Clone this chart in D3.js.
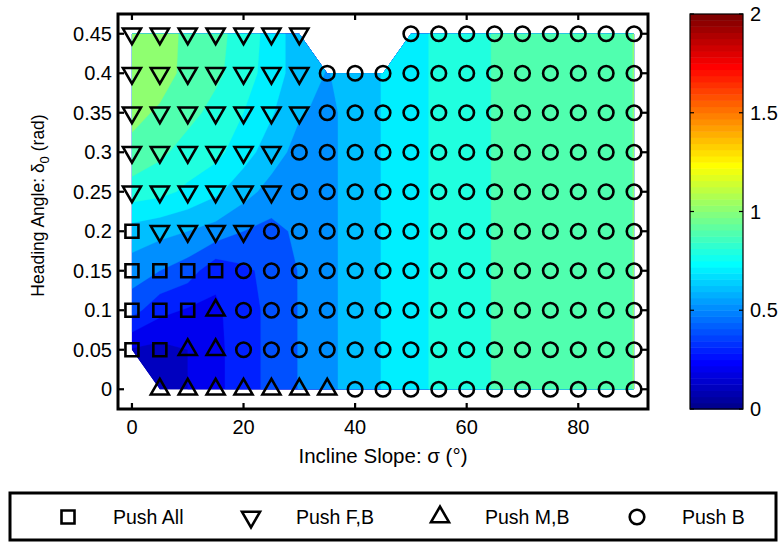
<!DOCTYPE html>
<html><head><meta charset="utf-8">
<script src="https://cdn.jsdelivr.net/npm/d3@7"></script>
<style>
body{margin:0;background:#fff}
svg{display:block}
text{font-family:"Liberation Sans",Arial,Helvetica,sans-serif;fill:#000}
</style>
</head><body>
<svg id="chart" width="784" height="544"></svg>
<script>
// ---------------- data ----------------
const slopes = [0,5,10,15,20,25,30,35,40,45,50,55,60,65,70,75,80,85,90];
const headings = [0,0.05,0.1,0.15,0.2,0.25,0.3,0.35,0.4,0.45];
// contour quantity, one row per heading (from 0 upward), one value per slope
const zRows = [
 [0.15,0.15,0.20,0.27,0.36,0.425,0.505,0.575,0.64,0.705,0.765,0.82,0.865,0.905,0.935,0.96,0.978,0.99,1.0005],
 [0.19,0.17,0.20,0.27,0.36,0.425,0.505,0.575,0.64,0.705,0.765,0.82,0.865,0.905,0.935,0.96,0.978,0.99,1.0005],
 [0.44,0.33,0.29,0.28,0.36,0.425,0.505,0.575,0.64,0.705,0.765,0.82,0.865,0.905,0.935,0.96,0.978,0.99,1.0005],
 [0.55,0.50,0.45,0.33,0.38,0.43,0.505,0.575,0.64,0.705,0.765,0.82,0.865,0.905,0.935,0.96,0.978,0.99,1.0005],
 [0.66,0.63,0.60,0.56,0.50,0.47,0.52,0.575,0.64,0.705,0.765,0.82,0.865,0.905,0.935,0.96,0.978,0.99,1.0005],
 [0.85,0.83,0.78,0.72,0.64,0.56,0.535,0.575,0.64,0.705,0.765,0.82,0.865,0.905,0.935,0.96,0.978,0.99,1.0005],
 [0.98,0.92,0.86,0.83,0.74,0.65,0.56,0.575,0.64,0.705,0.765,0.82,0.865,0.905,0.935,0.96,0.978,0.99,1.0005],
 [1.02,0.99,0.93,0.87,0.80,0.71,0.61,0.575,0.64,0.705,0.765,0.82,0.865,0.905,0.935,0.96,0.978,0.99,1.0005],
 [1.05,1.03,0.98,0.92,0.85,0.75,0.65,0.595,0.64,0.705,0.765,0.82,0.865,0.905,0.935,0.96,0.978,0.99,1.0005],
 [1.06,1.04,0.98,0.93,0.86,0.76,0.64,0.62,0.64,0.705,0.765,0.82,0.865,0.905,0.935,0.96,0.978,0.99,1.0005]
];
const levels = [0,0.1,0.2,0.3,0.4,0.5,0.6,0.7,0.8,0.9,1.0];
// regime at each grid node: S=Push All, D=Push F,B, U=Push M,B, O=Push B, -=none
const regimeRows = [
 "-UUUUUUUOOOOOOOOOOO",
 "SSUUOOOOOOOOOOOOOOO",
 "SSSUOOOOOOOOOOOOOOO",
 "SSSSOOOOOOOOOOOOOOO",
 "SDDDDOOOOOOOOOOOOOO",
 "DDDDDDOOOOOOOOOOOOO",
 "DDDDDDOOOOOOOOOOOOO",
 "DDDDDDDOOOOOOOOOOOO",
 "DDDDDDDOOOOOOOOOOOO",
 "DDDDDDD---OOOOOOOOO"
];
const legendCodes = ["S","D","U","O"];
const legendNames = ["Push All","Push F,B","Push M,B","Push B"];
// outline of the sampled region (slope, heading)
const dataOutline = [[0,0.05],[5,0],[90,0],[90,0.45],[50,0.45],[45,0.4],[35,0.4],[30,0.45],[0,0.45]];
const xTicks = [0,20,40,60,80];
const xTickLabels = ["0","20","40","60","80"];
const yTicks = [0,0.05,0.1,0.15,0.2,0.25,0.3,0.35,0.4,0.45];
const yTickLabels = ["0","0.05","0.1","0.15","0.2","0.25","0.3","0.35","0.4","0.45"];
const cbTicks = [0,0.5,1,1.5,2];
const cbTickLabels = ["0","0.5","1","1.5","2"];
const cLim = [0,2];

// ---------------- jet(64) colormap ----------------
function jet64(){
  const n=64,m=16,u=[];
  for(let k=1;k<=16;k++)u.push(k/16);
  for(let k=0;k<15;k++)u.push(1);
  for(let k=16;k>=1;k--)u.push(k/16);
  const J=Array.from({length:n},()=>[0,0,0]);
  u.forEach((v,k)=>{const g=8+k;if(g<n)J[g][1]=v;const r=g+m;if(r<n)J[r][0]=v;const b=g-m;if(b>=0)J[b][2]=v;});
  return J.map(c=>d3.rgb(Math.round(c[0]*255),Math.round(c[1]*255),Math.round(c[2]*255)).formatHex());
}
const cmap = jet64();
function colorOf(v){
  const i=Math.max(0,Math.min(cmap.length-1,Math.floor((v-cLim[0])/(cLim[1]-cLim[0])*cmap.length+1e-9)));
  return cmap[i];
}

// ---------------- layout ----------------
const svg = d3.select("#chart");
const plot = {left:118,right:648,top:14,bottom:409};
const xS = d3.scaleLinear().domain([-2.5,92.5]).range([plot.left,plot.right]);
const yS = d3.scaleLinear().domain([-0.025,0.475]).range([plot.bottom,plot.top]);

svg.append("defs").append("clipPath").attr("id","dataClip")
  .append("path")
  .attr("d", d3.line().x(d=>xS(d[0])).y(d=>yS(d[1])).curve(d3.curveLinearClosed)(dataOutline));

const nx=slopes.length, ny=headings.length;
const values=[];
for(let j=0;j<ny;j++)for(let i=0;i<nx;i++)values.push(zRows[j][i]);
const gx=d3.scaleLinear().domain([0.5,nx-0.5]).range([slopes[0],slopes[nx-1]]);
const gy=d3.scaleLinear().domain([0.5,ny-0.5]).range([headings[0],headings[ny-1]]);
const proj=d3.geoTransform({point(x,y){this.stream.point(xS(gx(x)),yS(gy(y)));}});
const path=d3.geoPath(proj);
const contours=d3.contours().size([nx,ny]).thresholds(levels)(values);
svg.append("g").attr("clip-path","url(#dataClip)")
  .selectAll("path").data(contours).join("path")
  .attr("d",path).attr("fill",d=>colorOf(d.value)).attr("stroke",d=>colorOf(d.value)).attr("stroke-width",0.3);

const axG=svg.append("g");
axG.append("rect").attr("x",plot.left).attr("y",plot.top)
  .attr("width",plot.right-plot.left).attr("height",plot.bottom-plot.top)
  .attr("fill","none").attr("stroke","#000").attr("stroke-width",3);
const tl=6;
xTicks.forEach((t,i)=>{
  const x=xS(t);
  axG.append("line").attr("x1",x).attr("x2",x).attr("y1",plot.bottom).attr("y2",plot.bottom-tl).attr("stroke","#000").attr("stroke-width",2.2);
  axG.append("line").attr("x1",x).attr("x2",x).attr("y1",plot.top).attr("y2",plot.top+tl).attr("stroke","#000").attr("stroke-width",2.2);
  axG.append("text").attr("x",x).attr("y",plot.bottom+25).attr("text-anchor","middle").attr("font-size",20).text(xTickLabels[i]);
});
yTicks.forEach((t,i)=>{
  const y=yS(t);
  axG.append("line").attr("x1",plot.left).attr("x2",plot.left+tl).attr("y1",y).attr("y2",y).attr("stroke","#000").attr("stroke-width",2.2);
  axG.append("line").attr("x1",plot.right).attr("x2",plot.right-tl).attr("y1",y).attr("y2",y).attr("stroke","#000").attr("stroke-width",2.2);
  axG.append("text").attr("x",plot.left-6).attr("y",y).attr("dy","0.35em").attr("text-anchor","end").attr("font-size",20).text(yTickLabels[i]);
});
axG.append("text").attr("x",(plot.left+plot.right)/2).attr("y",463).attr("text-anchor","middle").attr("font-size",20.5)
  .text("Incline Slope: \u03c3 (\u00b0)");
const yl=axG.append("text").attr("transform",`translate(44,${(plot.top+plot.bottom)/2-6}) rotate(-90)`)
  .attr("text-anchor","middle").attr("font-size",17.5);
yl.append("tspan").text("Heading Angle: \u03b4");
yl.append("tspan").attr("dy",5).attr("font-size",13).text("0");
yl.append("tspan").attr("dy",-5).text(" (rad)");

const sym={
  S:"M-6.5,-6.5H6.5V6.5H-6.5Z",
  D:"M-9,-5.2H9L0,10.4Z",
  U:"M-9,5.2H9L0,-10.4Z",
  O:"M7.3,0A7.3,7.3 0 1,1 -7.3,0A7.3,7.3 0 1,1 7.3,0Z"
};
const pts=[];
regimeRows.forEach((row,j)=>{for(let i=0;i<nx;i++){const c=row[i];if(c!=="-")pts.push({x:slopes[i],y:headings[j],c});}});
svg.append("g").selectAll("path").data(pts).join("path")
  .attr("transform",d=>`translate(${xS(d.x)},${yS(d.y)})`)
  .attr("d",d=>sym[d.c]).attr("fill","none").attr("stroke","#000").attr("stroke-width",2.6).attr("stroke-linejoin","miter");

const cb={left:690,right:743};
const cbS=d3.scaleLinear().domain(cLim).range([plot.bottom,plot.top]);
const cbG=svg.append("g");
cbG.selectAll("rect").data(cmap).join("rect")
  .attr("x",cb.left).attr("width",cb.right-cb.left)
  .attr("y",(d,i)=>cbS(cLim[0]+(i+1)*(cLim[1]-cLim[0])/cmap.length))
  .attr("height",(d,i)=>cbS(cLim[0]+i*(cLim[1]-cLim[0])/cmap.length)-cbS(cLim[0]+(i+1)*(cLim[1]-cLim[0])/cmap.length)+0.5)
  .attr("fill",d=>d);
cbG.append("rect").attr("x",cb.left).attr("y",plot.top).attr("width",cb.right-cb.left).attr("height",plot.bottom-plot.top)
  .attr("fill","none").attr("stroke","#000").attr("stroke-width",1.2);
cbTicks.forEach((t,i)=>{
  const y=cbS(t);
  cbG.append("line").attr("x1",cb.left).attr("x2",cb.left+4).attr("y1",y).attr("y2",y).attr("stroke","#000").attr("stroke-width",1.2);
  cbG.append("line").attr("x1",cb.right).attr("x2",cb.right-4).attr("y1",y).attr("y2",y).attr("stroke","#000").attr("stroke-width",1.2);
  cbG.append("text").attr("x",cb.right+7).attr("y",y).attr("dy","0.35em").attr("font-size",20).text(cbTickLabels[i]);
});

const lg=svg.append("g");
lg.append("rect").attr("x",10).attr("y",493).attr("width",766).attr("height",47)
  .attr("fill","#fff").attr("stroke","#000").attr("stroke-width",3);
const lgMarkX=[68,251,440,637];
legendCodes.forEach((c,i)=>{
  lg.append("path").attr("transform",`translate(${lgMarkX[i]},517)`).attr("d",sym[c]).attr("fill","none").attr("stroke","#000").attr("stroke-width",2.6);
  lg.append("text").attr("x",lgMarkX[i]+45).attr("y",517).attr("dy","0.35em").attr("font-size",19.5).text(legendNames[i]);
});
</script>
</body></html>
